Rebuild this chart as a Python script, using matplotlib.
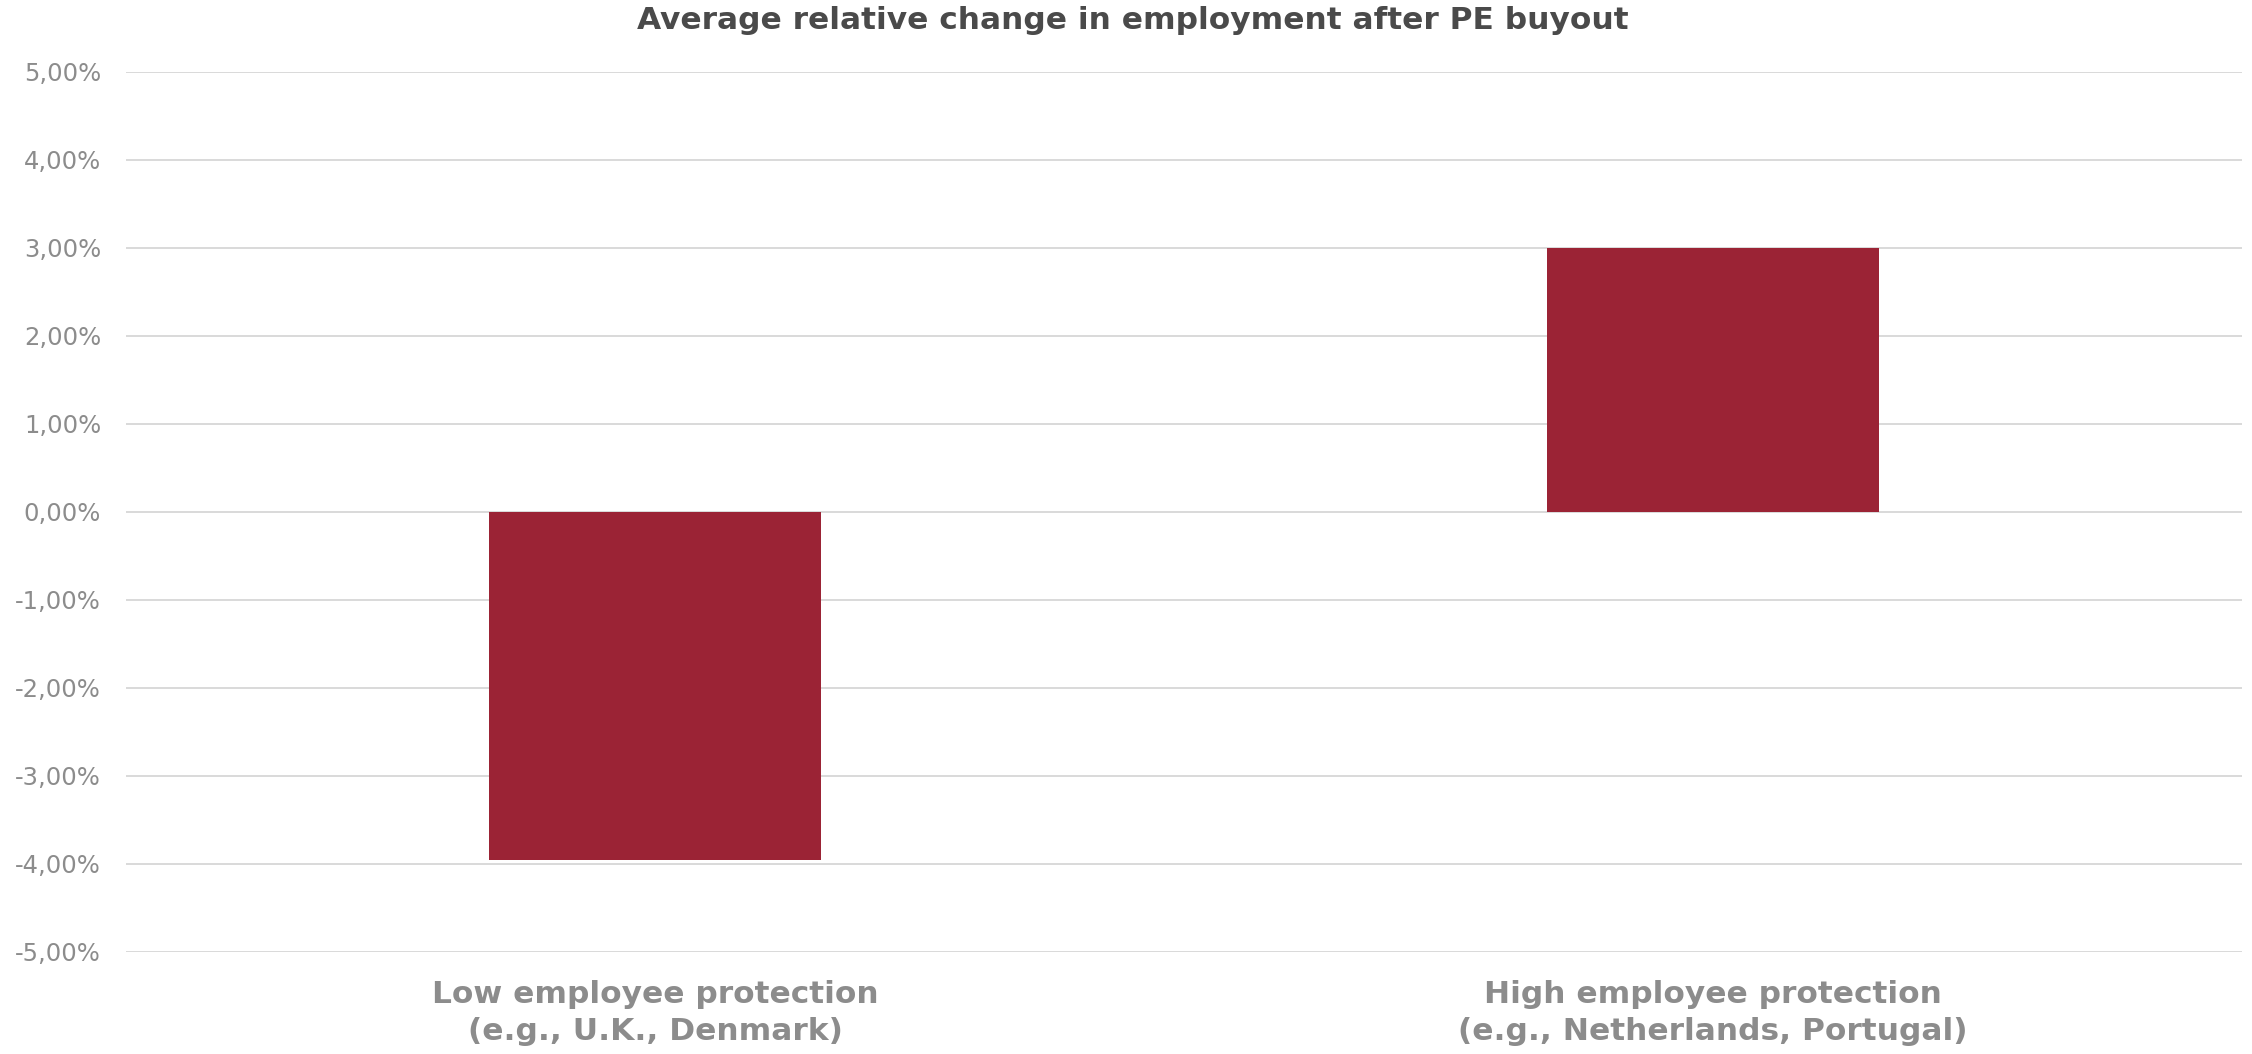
import matplotlib
matplotlib.use("Agg")
import matplotlib.pyplot as plt
from matplotlib.ticker import FuncFormatter

categories = ["Low employee protection\n(e.g., U.K., Denmark)",
              "High employee protection\n(e.g., Netherlands, Portugal)"]
values = [-0.0396, 0.0300]
yticks = [-0.05, -0.04, -0.03, -0.02, -0.01, 0.0, 0.01, 0.02, 0.03, 0.04, 0.05]

plt.rcParams["font.family"] = ["DejaVu Sans"]

fig = plt.figure(figsize=(22.52, 10.54), dpi=100)
ax = fig.add_axes([0.056, 0.0968, 0.9396, 0.8349])

x = range(len(categories))
ax.bar(x, values, width=0.314, color="#9B2335", zorder=3)

ax.set_xlim(-0.5, len(categories) - 0.5)
ax.set_ylim(-0.05, 0.05)
ax.set_yticks(yticks)
ax.yaxis.set_major_formatter(FuncFormatter(
    lambda v, _: f"{v * 100:.2f}%".replace(".", ",")))
ax.grid(axis="y", color="#d9d9d9", linewidth=1.4, zorder=0)
ax.set_axisbelow(True)

ax.set_xticks(list(x))
ax.set_xticklabels(categories, fontsize=22.5, fontweight="bold",
                   color="#8c8c8c", linespacing=1.35)
ax.tick_params(axis="x", length=0, pad=20)
ax.tick_params(axis="y", length=0, pad=18, labelsize=17.5, labelcolor="#8c8c8c")

for s in ax.spines.values():
    s.set_visible(False)

fig.text(0.503, 0.981, "Average relative change in employment after PE buyout",
         ha="center", va="center", fontsize=22.5, fontweight="bold", color="#4a4a4a")

fig.savefig("out.png", dpi=100)
